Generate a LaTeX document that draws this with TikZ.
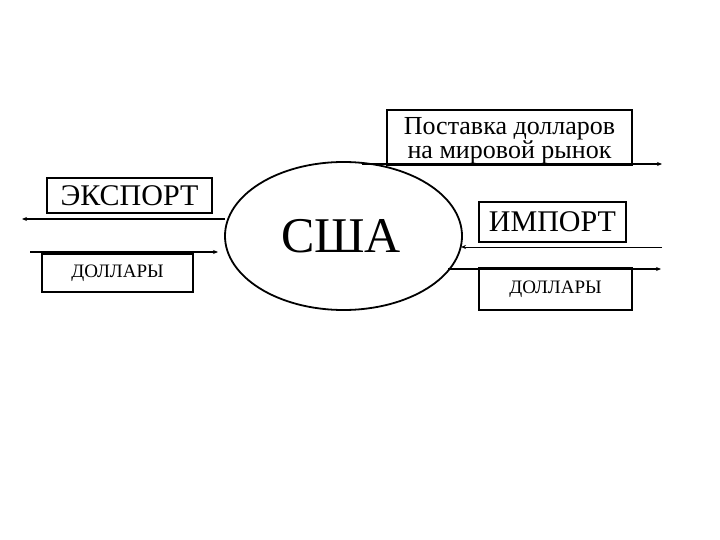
\documentclass[tikz,border=0pt]{standalone}
\usepackage{fontspec}
\setmainfont{Liberation Serif}
\usetikzlibrary{arrows.meta,shapes.geometric}
\begin{document}
\begin{tikzpicture}[x=1pt,y=-1pt,
  box/.style={draw=black,line width=1.8pt,inner sep=0pt,anchor=center},
  flow/.style={line width=1.6pt},
  tip/.style={-{Stealth[length=5pt,width=4pt]}}]
\useasboundingbox (0,0) rectangle (720,540);
\fill[white] (0,0) rectangle (720,540);
% ellipse
\node[draw=black,line width=1.8pt,ellipse,minimum width=237pt,minimum height=148pt,inner sep=0pt] (usa) at (343.5,236) {};
\node[font=\fontsize{50}{54}\selectfont] (usat) at (341,236) {США};
% boxes
\node[box,minimum width=165pt,minimum height=35pt,font=\fontsize{30}{32}\selectfont] (exp) at (129.5,195.5) {ЭКСПОРТ};
\node[box,minimum width=151pt,minimum height=38pt,font=\fontsize{19}{21}\selectfont] (dl) at (117.5,273) {ДОЛЛАРЫ};
\node[box,minimum width=245pt,minimum height=55pt] (sup) at (509.5,137.5) {};
\node[align=center,inner sep=0pt,font=\fontsize{26}{23}\selectfont] (suptext) at (509.5,141) {Поставка долларов\\на мировой рынок};
\node[box,minimum width=147pt,minimum height=40pt,font=\fontsize{30}{32}\selectfont] (imp) at (552.5,222) {ИМПОРТ};
\node[box,minimum width=153pt,minimum height=42pt,font=\fontsize{19}{21}\selectfont] (dr) at (555.5,289) {ДОЛЛАРЫ};
% coordinates
\coordinate (e1) at (22,219);
\coordinate (e1u) at (225,219);
\coordinate (d1) at (30,252);
\coordinate (d1u) at (218,252);
\coordinate (s0) at (362,164);
\coordinate (s1) at (662,164);
\coordinate (i0) at (662,247);
\coordinate (i1) at (461,247);
\coordinate (r0) at (448,269);
\coordinate (r1) at (661,269);
% connectors
\draw[flow,tip] (e1u) -- (e1);
\draw[flow,tip] (d1) -- (d1u);
\draw[flow,tip] (s0) -- (s1);
\draw[line width=1pt,tip] (i0) -- (i1);
\draw[flow,tip] (r0) -- (r1);
\end{tikzpicture}
\end{document}
